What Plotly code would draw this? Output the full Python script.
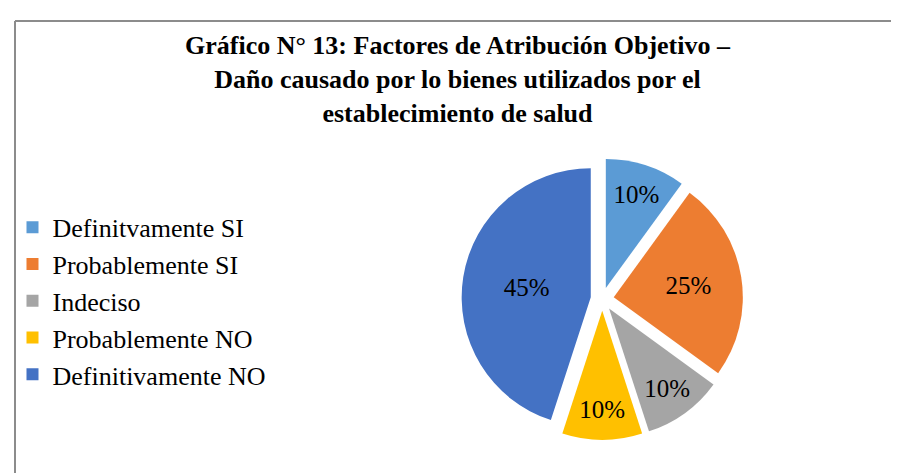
import plotly.graph_objects as go

labels = ["Definitvamente SI", "Probablemente SI", "Indeciso", "Probablemente NO", "Definitivamente NO"]
values = [10, 25, 10, 10, 45]
colors = ["#5B9BD5", "#ED7D31", "#A5A5A5", "#FFC000", "#4472C4"]
title_lines = ["Gráfico N° 13: Factores de Atribución Objetivo –",
               "Daño causado por lo bienes utilizados por el",
               "establecimiento de salud"]

fig = go.Figure(go.Pie(
    labels=labels,
    values=values,
    sort=False,
    direction="clockwise",
    rotation=0,
    marker=dict(colors=colors, line=dict(color="white", width=0)),
    pull=[0.09] * len(values),
    textinfo="percent",
    texttemplate="%{percent:.0%}",
    textposition="inside",
    insidetextorientation="horizontal",
    textfont=dict(family="Liberation Serif", size=25, color="black"),
    domain=dict(x=[0.436, 0.886], y=[0.087, 0.682]),
))

fig.update_layout(
    width=899, height=473,
    margin=dict(l=0, r=0, t=0, b=0),
    paper_bgcolor="white",
    plot_bgcolor="white",
    font=dict(family="Liberation Serif", color="black"),
    title=dict(
        text="<br>".join(title_lines),
        font=dict(family="Liberation Serif", size=26, color="black", weight="bold"),
        x=0.5, xanchor="center", xref="paper",
        y=1 - 46 / 473, yanchor="top", yref="container",
    ),
    legend=dict(
        x=0.005, y=0.38, xanchor="left", yanchor="middle",
        font=dict(family="Liberation Serif", size=26, color="black"),
        itemwidth=30,
        bgcolor="rgba(0,0,0,0)",
    ),
    shapes=[
        dict(type="line", xref="paper", yref="paper", x0=7/899, x1=1.0, y0=1-13/473, y1=1-13/473,
             line=dict(color="#8C8C8C", width=2)),
        dict(type="line", xref="paper", yref="paper", x0=7/899, x1=7/899, y0=0, y1=1-13/473,
             line=dict(color="#8C8C8C", width=2)),
    ],
)

fig.write_html("out.html")
